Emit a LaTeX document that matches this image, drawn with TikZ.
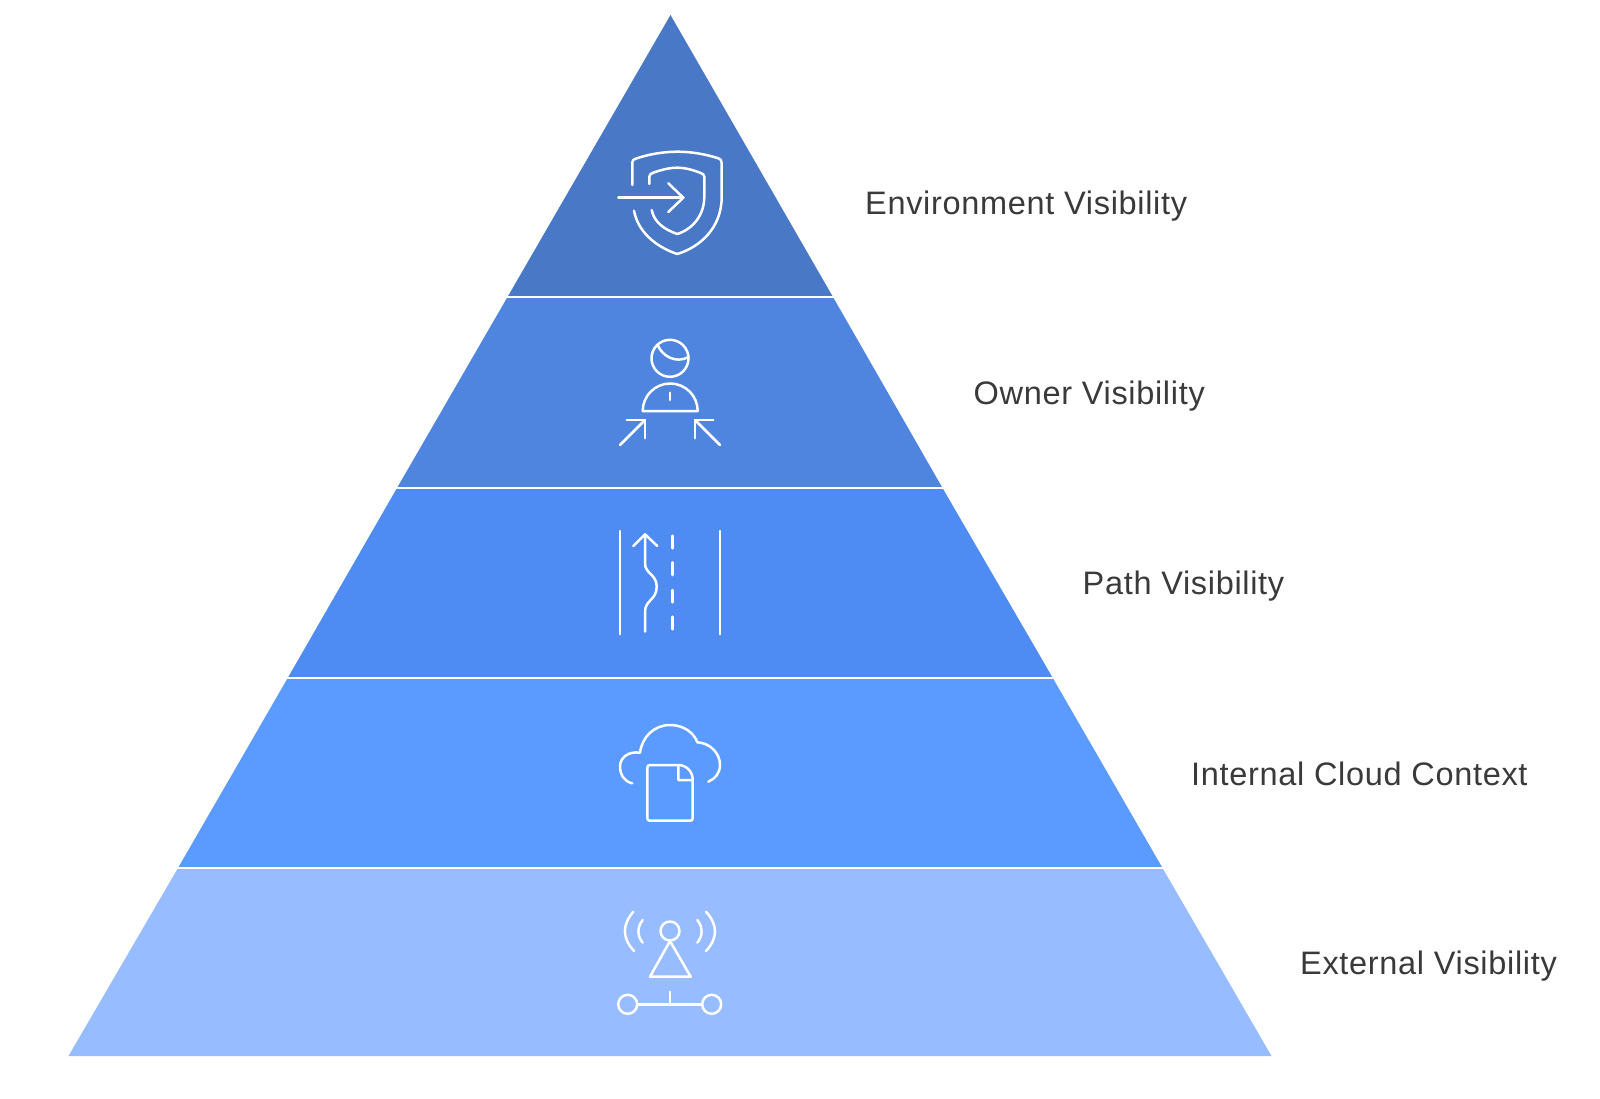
\documentclass[tikz,border=0pt]{standalone}
\usepackage{fontspec}
\setmainfont[LetterSpace=2.1]{Liberation Sans}
\definecolor{bandA}{HTML}{4878C6}
\definecolor{bandB}{HTML}{4F84DF}
\definecolor{bandC}{HTML}{4E8CF3}
\definecolor{bandD}{HTML}{5B9BFF}
\definecolor{bandE}{HTML}{97BCFF}
\definecolor{labelcol}{HTML}{3A3A3A}
\tikzset{
  band/.style={draw=none},
  sep/.style={draw=white,line width=2pt},
  ico/.style={draw=white,line width=2.5pt,line cap=round,line join=round},
  lab/.style={anchor=base west,inner sep=0pt,text=labelcol,font=\fontsize{32.5}{36}\selectfont},
}
\begin{document}
\begin{tikzpicture}[x=1pt,y=-1pt]
\useasboundingbox[fill=white] (0,0) rectangle (1600,1099);
% bands
\fill[band,bandA] (670.5,15) -- (833,297) -- (507.5,297) -- cycle;
\fill[band,bandB] (507.5,297) -- (833,297) -- (942.5,488) -- (397,488) -- cycle;
\fill[band,bandC] (397,488) -- (942.5,488) -- (1052.5,677.5) -- (288,677.5) -- cycle;
\fill[band,bandD] (288,677.5) -- (1052.5,677.5) -- (1162.5,868) -- (178,868) -- cycle;
\fill[band,bandE] (178,868) -- (1162.5,868) -- (1271.5,1056) -- (68.5,1056) -- cycle;
\draw[sep] (505,297) -- (836,297);
\draw[sep] (395,488) -- (945,488);
\draw[sep] (286,677.5) -- (1055,677.5);
\draw[sep] (176,868) -- (1165,868);
% labels
\node[lab] (env) at (865,215) {Environment Visibility};
\node[lab] (own) at (973.5,404.5) {Owner Visibility};
\node[lab] (pth) at (1082.5,594.5) {Path Visibility};
\node[lab] (int) at (1191,785) {Internal Cloud Context};
\node[lab] (ext) at (1300,974.5) {External Visibility};
% icon 1
\draw[ico] (632.3,185) -- (632.3,163.3) .. controls (632.3,160) and (634,159) .. (636.7,158.3) .. controls (650,154) and (664,151.7) .. (677.3,151.7) .. controls (691,151.7) and (705,154) .. (718.3,158.3) .. controls (720.5,159) and (721.7,160) .. (721.7,163.3) -- (721.7,196.7) .. controls (721.7,228) and (700,247) .. (677.3,254) .. controls (656,247) and (638,232) .. (634,210.7);
\draw[ico] (649.3,184) -- (649.3,176.7) .. controls (649.3,174.5) and (651,173.4) .. (653.3,172.7) .. controls (661,170) and (669,167.7) .. (677.3,167.7) .. controls (685,167.7) and (693,170) .. (700,172.7) .. controls (702.5,173.5) and (704.3,174.5) .. (704.3,176.7) -- (704.3,196.7) .. controls (704.3,215) and (693,229) .. (677.3,234) .. controls (664,229.5) and (654,222) .. (651.7,210);
\draw[ico] (618.3,197.7) -- (683.3,197.7);
\draw[ico] (668.3,183.3) -- (683.3,197.7) -- (668.3,212);
% icon 2
\draw[ico] (670,358.3) circle[radius=18.5];
\draw[ico] (657.7,345) .. controls (662,356) and (676,364) .. (688.5,357);
\draw[ico] (642.7,411) arc[start angle=180,end angle=360,radius=27.5] -- cycle;
\draw[ico] (670,392.7) -- (670,400);
\draw[ico] (620,445) -- (645,420);
\draw[ico] (626.7,420) -- (645,420) -- (645,438.3);
\draw[ico] (720,445) -- (695,420);
\draw[ico] (713.3,420) -- (695,420) -- (695,438.3);
% icon 3
\draw[ico] (620,531) -- (620,634.3);
\draw[ico] (720,531) -- (720,634.3);
\draw[ico] (672.3,535.7) -- (672.3,548.3);
\draw[ico] (672.3,562.3) -- (672.3,575);
\draw[ico] (672.3,590) -- (672.3,602.3);
\draw[ico] (672.3,616.7) -- (672.3,629.3);
\draw[ico] (645,631.7) -- (645,611.7) .. controls (645,600) and (656.7,600) .. (656.7,586.7) .. controls (656.7,574) and (645,574) .. (645,563.3) -- (645,534.3);
\draw[ico] (633.3,546) -- (645,534.3) -- (657.3,546);
% icon 4
\draw[ico] (632.3,783.3) .. controls (625,782) and (620,775) .. (620,766.7) .. controls (620,757) and (629,751) .. (640,752.7) .. controls (642,737) and (654,725) .. (670,725) .. controls (684,725) and (694,733) .. (697.3,742.3) .. controls (710,743) and (720,753) .. (720,765) .. controls (720,773) and (715,779) .. (708.3,781.7);
\draw[ico] (678.3,765) -- (650,765) .. controls (648,765) and (647.3,766) .. (647.3,768) -- (647.3,818) .. controls (647.3,820) and (648,820.7) .. (650,820.7) -- (690,820.7) .. controls (692,820.7) and (692.7,820) .. (692.7,818) -- (692.7,780) .. controls (692.7,771) and (686,765) .. (678.3,765) -- (678.3,780) -- (692.7,780);
% icon 5
\draw[ico] (670,931) circle[radius=9.5];
\draw[ico] (670,941) -- (690.7,976.7) -- (650,976.7) -- cycle;
\draw[ico] (633.3,911.7) .. controls (622,925) and (622,938) .. (634,951);
\draw[ico] (642.7,920) .. controls (637,927) and (637,936) .. (642.7,942.7);
\draw[ico] (706,911.7) .. controls (718,925) and (718,938) .. (706,951);
\draw[ico] (697.3,920) .. controls (703,927) and (703,936) .. (697.3,942.7);
\draw[ico] (627.7,1004.3) circle[radius=9.5];
\draw[ico] (711.7,1004.3) circle[radius=9.5];
\draw[ico] (637.3,1004.3) -- (702,1004.3);
\draw[ico] (670,991.7) -- (670,1004.3);
\end{tikzpicture}
\end{document}
